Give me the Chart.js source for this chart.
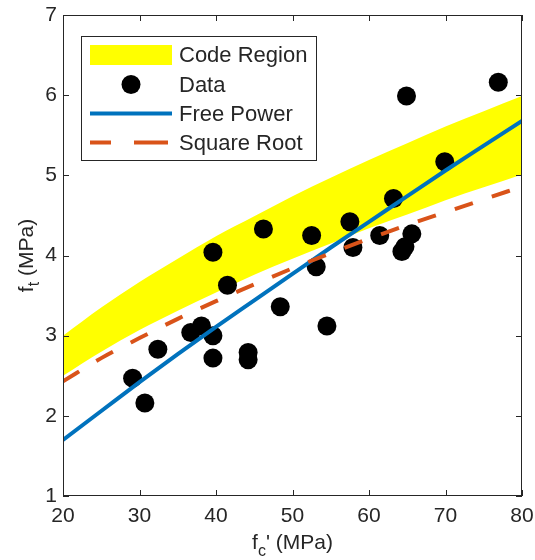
<!DOCTYPE html>
<html>
<head>
<meta charset="utf-8">
<script src="https://cdn.jsdelivr.net/npm/chart.js@4.4.1/dist/chart.umd.min.js"></script>
<style>
  html, body { margin: 0; padding: 0; background: #fff; }
  canvas { display: block; }
</style>
</head>
<body>
<canvas id="fig" width="535" height="560" style="width:535px;height:560px"></canvas>
<script>
// measured points, f'c (MPa) vs ft (MPa)
const fcData = [29.1, 30.7, 32.4, 36.7, 38.1, 39.6, 39.6, 39.6, 41.5, 44.2, 44.2, 46.2, 48.4, 52.5, 53.1, 54.5, 57.5, 57.9, 61.4, 63.2, 64.3, 64.7, 65.6, 64.9, 69.9, 76.9];
const ftData = [2.47, 2.16, 2.83, 3.04, 3.12, 4.04, 3.00, 2.72, 3.63, 2.79, 2.70, 4.33, 3.36, 4.25, 3.86, 3.12, 4.42, 4.10, 4.25, 4.71, 4.05, 4.11, 4.27, 5.99, 5.17, 6.16];

// curves at these f'c values
const fcCurve = [20, 25, 30, 35, 40, 45, 50, 55, 60, 65, 70, 75, 80];
const codeLower = [2.50, 2.80, 3.07, 3.31, 3.54, 3.76, 3.96, 4.15, 4.34, 4.51, 4.69, 4.85, 5.01];
const codeUpper = [3.00, 3.35, 3.67, 3.96, 4.24, 4.49, 4.74, 4.97, 5.19, 5.40, 5.61, 5.80, 5.99];
const freePower = [1.70, 2.06, 2.42, 2.77, 3.11, 3.44, 3.77, 4.10, 4.42, 4.74, 5.06, 5.37, 5.68];
const squareRoot = [2.43, 2.72, 2.97, 3.21, 3.43, 3.64, 3.84, 4.03, 4.21, 4.38, 4.54, 4.70, 4.86];

const xTicks = [20, 30, 40, 50, 60, 70, 80];
const yTicks = [1, 2, 3, 4, 5, 6, 7];

const FONT = '"Liberation Sans", Arial, Helvetica, sans-serif';
const INK = '#262626';
const YELLOW = '#ffff00';
const BLUE = '#0072bd';
const ORANGE = '#d95319';

const toXY = (xs, ys) => xs.map((x, i) => ({ x: x, y: ys[i] }));

// box, inward ticks, legend and axis titles (with subscripts)
const decor = {
    id: 'decor',
    afterDatasetsDraw(chart) {
        const { ctx, chartArea: a, scales } = chart;
        ctx.save();
        ctx.strokeStyle = INK;
        ctx.lineWidth = 1;
        ctx.strokeRect(a.left + 0.5, a.top + 0.5, a.right - a.left - 1, a.bottom - a.top - 1);
        ctx.beginPath();
        xTicks.forEach(v => {
            const px = Math.round(scales.x.getPixelForValue(v)) + 0.5;
            ctx.moveTo(px, a.bottom); ctx.lineTo(px, a.bottom - 6);
            ctx.moveTo(px, a.top); ctx.lineTo(px, a.top + 6);
        });
        yTicks.forEach(v => {
            const py = Math.round(scales.y.getPixelForValue(v)) + 0.5;
            ctx.moveTo(a.left, py); ctx.lineTo(a.left + 6, py);
            ctx.moveTo(a.right, py); ctx.lineTo(a.right - 6, py);
        });
        ctx.stroke();
        ctx.restore();
    },
    afterDraw(chart) {
        const { ctx, chartArea: a } = chart;
        ctx.save();

        // legend
        const lx = 81, ly = 36, lw = 235, lh = 124;
        ctx.fillStyle = '#fff';
        ctx.fillRect(lx, ly, lw, lh);
        ctx.strokeStyle = INK;
        ctx.lineWidth = 1;
        ctx.strokeRect(lx + 0.5, ly + 0.5, lw, lh);
        const rows = [55, 84.5, 113.5, 142.5];
        const names = ['Code Region', 'Data', 'Free Power', 'Square Root'];
        ctx.fillStyle = YELLOW;
        ctx.fillRect(90, rows[0] - 10, 82, 20);
        ctx.fillStyle = '#000';
        ctx.beginPath();
        ctx.arc(131, rows[1], 9.5, 0, Math.PI * 2);
        ctx.fill();
        ctx.lineWidth = 4;
        ctx.strokeStyle = BLUE;
        ctx.beginPath(); ctx.moveTo(90, rows[2]); ctx.lineTo(172, rows[2]); ctx.stroke();
        ctx.strokeStyle = ORANGE;
        ctx.setLineDash([21, 23, 34, 60]);
        ctx.beginPath(); ctx.moveTo(90, rows[3]); ctx.lineTo(172, rows[3]); ctx.stroke();
        ctx.setLineDash([]);
        ctx.fillStyle = INK;
        ctx.font = '22px ' + FONT;
        ctx.textBaseline = 'middle';
        ctx.textAlign = 'left';
        names.forEach((n, i) => ctx.fillText(n, 179, rows[i] + 1));

        // x title: f_c' (MPa)
        const big = '21px ' + FONT, small = '16px ' + FONT;
        ctx.textBaseline = 'alphabetic';
        ctx.font = big;
        const wf = ctx.measureText('f').width;
        const wr = ctx.measureText("' (MPa)").width;
        ctx.font = small;
        const wc = ctx.measureText('c').width;
        let x0 = (a.left + a.right) / 2 - (wf + wc + wr) / 2;
        const yb = 549;
        ctx.font = big;
        ctx.fillText('f', x0, yb);
        ctx.font = small;
        ctx.fillText('c', x0 + wf, yb + 7);
        ctx.font = big;
        ctx.fillText("' (MPa)", x0 + wf + wc, yb);

        // y title: f_t (MPa)
        ctx.translate(33, (a.top + a.bottom) / 2);
        ctx.rotate(-Math.PI / 2);
        ctx.font = big;
        const wm = ctx.measureText(' (MPa)').width;
        ctx.font = small;
        const wt = ctx.measureText('t').width;
        x0 = -(wf + wt + wm) / 2;
        ctx.font = big;
        ctx.fillText('f', x0, 0);
        ctx.font = small;
        ctx.fillText('t', x0 + wf, 6);
        ctx.font = big;
        ctx.fillText(' (MPa)', x0 + wf + wt, 0);

        ctx.restore();
    }
};

new Chart(document.getElementById('fig').getContext('2d'), {
    type: 'line',
    data: {
        datasets: [
            {
                label: 'Square Root',
                data: toXY(fcCurve, squareRoot),
                borderColor: ORANGE,
                borderWidth: 4,
                borderDash: [19, 20],
                borderCapStyle: 'butt',
                pointRadius: 0,
                cubicInterpolationMode: 'monotone',
                fill: false,
                order: 0
            },
            {
                label: 'Free Power',
                data: toXY(fcCurve, freePower),
                borderColor: BLUE,
                borderWidth: 4,
                pointRadius: 0,
                cubicInterpolationMode: 'monotone',
                fill: false,
                order: 1
            },
            {
                label: 'Data',
                data: toXY(fcData, ftData),
                showLine: false,
                pointRadius: 9.5,
                pointBackgroundColor: '#000',
                pointBorderWidth: 0,
                order: 2
            },
            {
                label: 'Code Region',
                data: toXY(fcCurve, codeUpper),
                borderWidth: 0,
                borderColor: YELLOW,
                backgroundColor: YELLOW,
                pointRadius: 0,
                cubicInterpolationMode: 'monotone',
                fill: '+1',
                order: 3
            },
            {
                label: 'Code Region (lower)',
                data: toXY(fcCurve, codeLower),
                borderWidth: 0,
                borderColor: YELLOW,
                pointRadius: 0,
                cubicInterpolationMode: 'monotone',
                fill: false,
                order: 4
            }
        ]
    },
    options: {
        responsive: false,
        animation: false,
        layout: { padding: { top: 15, right: 13, left: 0, bottom: 0 } },
        plugins: {
            legend: { display: false },
            tooltip: { enabled: false }
        },
        scales: {
            x: {
                type: 'linear',
                min: 20,
                max: 80,
                afterBuildTicks: s => { s.ticks = xTicks.map(v => ({ value: v })); },
                ticks: { color: INK, font: { family: FONT, size: 21 }, padding: 8, maxRotation: 0 },
                grid: { display: false, drawTicks: false },
                border: { display: false },
                afterFit: s => { s.height = 64; s.paddingLeft = 0; s.paddingRight = 0; }
            },
            y: {
                type: 'linear',
                min: 1,
                max: 7,
                afterBuildTicks: s => { s.ticks = yTicks.map(v => ({ value: v })); },
                ticks: { color: INK, font: { family: FONT, size: 21 }, padding: 6 },
                grid: { display: false, drawTicks: false },
                border: { display: false },
                afterFit: s => { s.width = 63; s.paddingTop = 0; s.paddingBottom = 0; }
            }
        }
    },
    plugins: [decor]
});
</script>
</body>
</html>
